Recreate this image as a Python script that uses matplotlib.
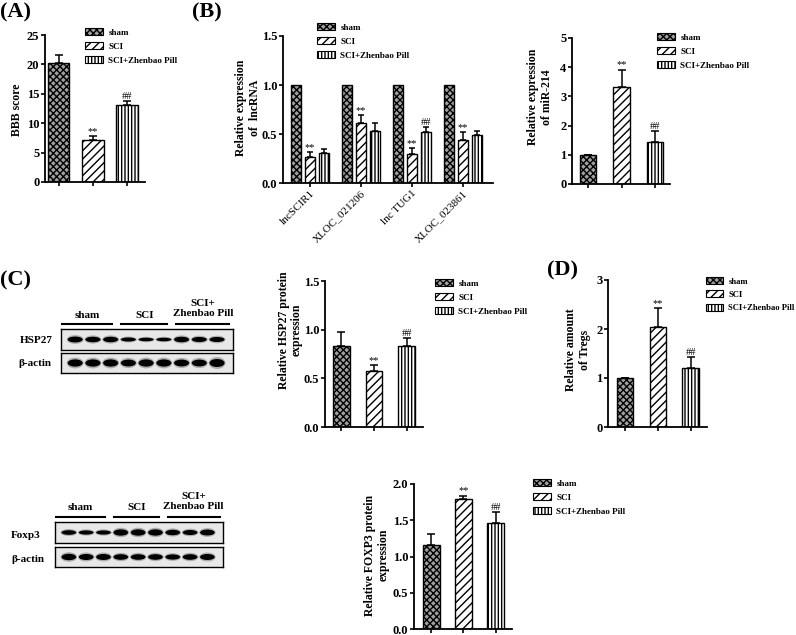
import numpy as np
import matplotlib.pyplot as plt
from matplotlib.patches import Patch, Ellipse

plt.rcParams['font.family'] = ['Liberation Serif', 'DejaVu Serif']
plt.rcParams['hatch.linewidth'] = 1.0

W, H = 796, 635

# data
groups = ['sham', 'SCI', 'SCI+Zhenbao Pill']
marks = ['', '**', '##']

bbb_mean = [20.3, 7.1, 13.1]
bbb_err = [1.3, 0.7, 0.7]

lnc_names = ['lncSCIR1', 'XLOC_021206', 'lnc TUG1', 'XLOC_023861']
lnc_sham = [1.0, 1.0, 1.0, 1.0]
lnc_sci = [0.27, 0.61, 0.30, 0.44]
lnc_sci_err = [0.05, 0.08, 0.06, 0.08]
lnc_zp = [0.31, 0.53, 0.52, 0.49]
lnc_zp_err = [0.04, 0.08, 0.05, 0.04]
lnc_sci_mark = ['**', '**', '**', '**']
lnc_zp_mark = ['', '', '##', '']

mir_mean = [1.0, 3.32, 1.45]
mir_err = [0.0, 0.60, 0.35]

hsp_mean = [0.83, 0.58, 0.83]
hsp_err = [0.15, 0.06, 0.08]

treg_mean = [1.0, 2.05, 1.20]
treg_err = [0.0, 0.37, 0.22]

foxp3_mean = [1.16, 1.80, 1.46]
foxp3_err = [0.15, 0.04, 0.15]

# blot band thickness per lane (3 sham, 3 SCI, 3 SCI+Zhenbao Pill)
hsp27_bands = [0.28, 0.26, 0.26, 0.19, 0.17, 0.17, 0.26, 0.24, 0.24]
hsp_actin_bands = [0.36, 0.36, 0.36, 0.34, 0.36, 0.36, 0.34, 0.34, 0.40]
foxp3_bands = [0.22, 0.20, 0.20, 0.30, 0.30, 0.30, 0.26, 0.24, 0.28]
fox_actin_bands = [0.32, 0.30, 0.30, 0.28, 0.28, 0.28, 0.26, 0.28, 0.30]

styles = [dict(facecolor='#a0a0a0', hatch='xxxxx'),
          dict(facecolor='white', hatch='////'),
          dict(facecolor='white', hatch='|||||')]

fig = plt.figure(figsize=(W / 100, H / 100), dpi=100)


def rect(x0, y0, x1, y1):
    return [x0 / W, 1 - y1 / H, (x1 - x0) / W, (y1 - y0) / H]


def ftext(x, y, s, **kw):
    fig.text(x / W, 1 - y / H, s, **kw)


def style_axis(ax, yticks, fmt):
    ax.set_ylim(yticks[0], yticks[-1])
    ax.set_yticks(yticks)
    ax.set_yticklabels([fmt.format(v) for v in yticks], fontweight='bold')
    for s in ['top', 'right']:
        ax.spines[s].set_visible(False)
    for s in ['left', 'bottom']:
        ax.spines[s].set_linewidth(1.3)
    ax.tick_params(direction='out', length=3, width=1.2, labelsize=9, pad=1)


def bar3(ax, means, errs, width, xlim):
    x = np.arange(3)
    for i in range(3):
        ax.bar(x[i], means[i], width, edgecolor='black', linewidth=1.0, **styles[i])
    ax.errorbar(x, means, yerr=[np.zeros(3), errs], fmt='none', ecolor='black',
                elinewidth=1.1, capsize=3, capthick=1.1)
    for i in range(3):
        if marks[i]:
            ax.annotate(marks[i], (x[i], means[i] + errs[i]), xytext=(0, 0),
                        textcoords='offset points', ha='center', va='bottom', fontsize=7.5)
    ax.set_xticks(x)
    ax.set_xticklabels([])
    ax.set_xlim(*xlim)


def legend_at(x, y, size=6.5):
    handles = [Patch(edgecolor='black', linewidth=0.8, **styles[i]) for i in range(3)]
    fig.legend(handles, groups, loc='upper left', bbox_to_anchor=(x / W, 1 - y / H),
               frameon=False, prop=dict(family='Liberation Serif', weight='bold', size=size),
               handlelength=2.0, handleheight=0.9, handletextpad=0.6, labelspacing=0.55,
               borderpad=0, borderaxespad=0)


def blot(box, bands):
    ax = fig.add_axes(rect(*box))
    ax.set_facecolor('#e8e8e8')
    ax.set_xlim(-0.8, 8.9)
    ax.set_ylim(0, 1)
    ax.set_xticks([])
    ax.set_yticks([])
    for s in ax.spines.values():
        s.set_linewidth(1.0)
    for i, h in enumerate(bands):
        ax.add_patch(Ellipse((i, 0.5), 0.95, h * 1.5, color='black', alpha=0.25, lw=0))
        ax.add_patch(Ellipse((i, 0.5), 0.85, h, color='black', lw=0))
    return ax


def blot_header(ax, h_px):
    tr = ax.get_xaxis_transform()
    spans = [(-0.75, 2.1), (2.6, 5.2), (5.7, 8.7)]
    texts = ['sham', 'SCI', 'SCI+\nZhenbao Pill']
    for (a, b), t in zip(spans, texts):
        ax.plot([a, b], [1 + 5 / h_px] * 2, transform=tr, clip_on=False, color='black', lw=1.5)
        ypos = 1 + 14 / h_px if '\n' not in t else 1 + 20.5 / h_px
        ax.text((a + b) / 2, ypos, t, transform=tr, ha='center', va='center',
                fontsize=8, fontweight='bold', linespacing=1.05)


# (A) BBB score
ax = fig.add_axes(rect(45, 35, 145, 182))
bar3(ax, bbb_mean, bbb_err, 0.62, (-0.41, 2.53))
style_axis(ax, [0, 5, 10, 15, 20, 25], '{:d}')
legend_at(85, 28)
ftext(17, 110, 'BBB score', rotation=90, ha='center', va='center', fontsize=8.5, fontweight='bold')
ftext(0, 12, '(A)', ha='left', va='center', fontsize=16, fontweight='bold')

# (B) lncRNA
ax = fig.add_axes(rect(283, 36, 493, 183))
xg = np.arange(4)
bw, off = 0.2, 0.27
ax.bar(xg - off, lnc_sham, bw, edgecolor='black', linewidth=1.0, **styles[0])
ax.bar(xg, lnc_sci, bw, edgecolor='black', linewidth=1.0, **styles[1])
ax.bar(xg + off, lnc_zp, bw, edgecolor='black', linewidth=1.0, **styles[2])
ax.errorbar(xg, lnc_sci, yerr=[np.zeros(4), lnc_sci_err], fmt='none', ecolor='black',
            elinewidth=1.1, capsize=2.5, capthick=1.1)
ax.errorbar(xg + off, lnc_zp, yerr=[np.zeros(4), lnc_zp_err], fmt='none', ecolor='black',
            elinewidth=1.1, capsize=2.5, capthick=1.1)
for i in range(4):
    if lnc_sci_mark[i]:
        ax.annotate(lnc_sci_mark[i], (xg[i], lnc_sci[i] + lnc_sci_err[i]), xytext=(0, 0),
                    textcoords='offset points', ha='center', va='bottom', fontsize=7.5)
    if lnc_zp_mark[i]:
        ax.annotate(lnc_zp_mark[i], (xg[i] + off, lnc_zp[i] + lnc_zp_err[i]), xytext=(0, 0),
                    textcoords='offset points', ha='center', va='bottom', fontsize=7.5)
ax.set_xlim(-0.53, 3.59)
style_axis(ax, [0.0, 0.5, 1.0, 1.5], '{:.1f}')
ax.set_xticks(xg)
ax.set_xticklabels(lnc_names, rotation=45, ha='right', va='top', rotation_mode='anchor',
                   fontsize=8, fontweight='normal')
legend_at(317, 23)
ftext(248, 108, 'Relative expression\nof  lncRNA', rotation=90, ha='center', va='center',
      fontsize=8.5, fontweight='bold', linespacing=1.15)
ftext(192, 12, '(B)', ha='left', va='center', fontsize=16, fontweight='bold')

# miR-214
ax = fig.add_axes(rect(572, 38, 670, 184))
bar3(ax, mir_mean, mir_err, 0.5, (-0.48, 2.45))
style_axis(ax, [0, 1, 2, 3, 4, 5], '{:d}')
legend_at(657, 33)
ftext(540, 97, 'Relative expression\nof miR-214', rotation=90, ha='center', va='center',
      fontsize=8.5, fontweight='bold', linespacing=1.15)

# (C) HSP27 blot
b1 = blot((61, 329, 233, 350), hsp27_bands)
blot_header(b1, 21)
blot((61, 353, 233, 373), hsp_actin_bands)
ftext(36, 340, 'HSP27', ha='center', va='center', fontsize=8, fontweight='bold')
ftext(35, 363, '\u03b2-actin', ha='center', va='center', fontsize=8, fontweight='bold')
ftext(0, 280, '(C)', ha='left', va='center', fontsize=16, fontweight='bold')

# HSP27 bars
ax = fig.add_axes(rect(325, 281, 423, 427))
bar3(ax, hsp_mean, hsp_err, 0.52, (-0.5, 2.5))
style_axis(ax, [0.0, 0.5, 1.0, 1.5], '{:.1f}')
legend_at(435, 279)
ftext(290, 330, 'Relative HSP27 protein\nexpression', rotation=90, ha='center', va='center',
      fontsize=8.5, fontweight='bold', linespacing=1.1)

# (D) Tregs
ax = fig.add_axes(rect(608, 280, 707, 427))
bar3(ax, treg_mean, treg_err, 0.5, (-0.52, 2.5))
style_axis(ax, [0, 1, 2, 3], '{:d}')
legend_at(706, 277, size=6.2)
ftext(578, 350, 'Relative amount\nof Tregs', rotation=90, ha='center', va='center',
      fontsize=8.5, fontweight='bold', linespacing=1.15)
ftext(547, 270, '(D)', ha='left', va='center', fontsize=16, fontweight='bold')

# Foxp3 blot
b2 = blot((55, 522, 223, 543), foxp3_bands)
blot_header(b2, 21)
blot((55, 547, 223, 567), fox_actin_bands)
ftext(26, 535, 'Foxp3', ha='center', va='center', fontsize=8, fontweight='bold')
ftext(28, 559, '\u03b2-actin', ha='center', va='center', fontsize=8, fontweight='bold')

# FOXP3 bars
ax = fig.add_axes(rect(414, 484, 512, 629))
bar3(ax, foxp3_mean, foxp3_err, 0.52, (-0.53, 2.5))
style_axis(ax, [0.0, 0.5, 1.0, 1.5, 2.0], '{:.1f}')
legend_at(533, 479)
ftext(377, 555, 'Relative FOXP3 protein\nexpression', rotation=90, ha='center', va='center',
      fontsize=8.5, fontweight='bold', linespacing=1.15)

fig.savefig('out.png', dpi=100)
